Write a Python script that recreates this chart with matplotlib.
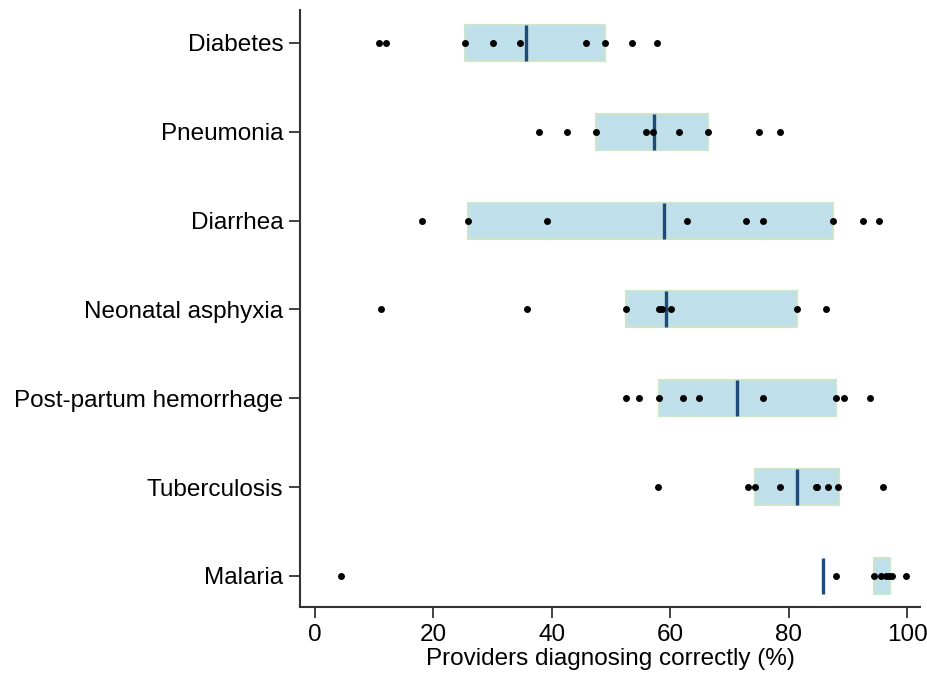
import matplotlib
matplotlib.use("Agg")
import matplotlib.pyplot as plt

plt.rcParams['font.family'] = ['Liberation Sans', 'DejaVu Sans']

# conditions, top to bottom
conditions = ["Diabetes", "Pneumonia", "Diarrhea", "Neonatal asphyxia",
              "Post-partum hemorrhage", "Tuberculosis", "Malaria"]

# shaded range (left, right) and median line, per condition
box_lo = [25.3, 47.4, 25.8, 52.5, 58.0, 74.3, 94.3]
box_hi = [49.0, 66.3, 87.4, 81.3, 88.0, 88.4, 97.1]
medians = [35.7, 57.2, 59.0, 59.2, 71.2, 81.4, 85.8]

# individual study values
points = [
    [10.8, 12.0, 25.3, 30.1, 34.6, 45.7, 49.0, 53.6, 57.8],
    [37.8, 42.5, 47.4, 55.9, 57.1, 61.5, 66.3, 74.9, 78.5],
    [18.0, 25.8, 39.2, 62.8, 72.8, 75.6, 87.4, 92.5, 95.2],
    [11.2, 35.8, 52.5, 58.0, 58.6, 60.1, 81.3, 86.3],
    [52.5, 54.7, 58.0, 62.2, 64.8, 75.7, 88.0, 89.3, 93.6],
    [57.9, 73.1, 74.2, 78.5, 84.5, 84.8, 86.6, 88.3, 95.8],
    [4.4, 87.9, 94.3, 95.6, 96.3, 96.8, 97.4, 99.8],
]

fig = plt.figure(figsize=(9.28, 6.74), dpi=100)
ax = fig.add_axes([0.3233, 0.0994, 0.668, 0.8856])

n = len(conditions)
ypos = [n - 1 - i for i in range(n)]

for i, y in enumerate(ypos):
    ax.barh(y, box_hi[i] - box_lo[i], left=box_lo[i], height=0.405,
            color="#bfe0eb", edgecolor="#c9e6cb", linewidth=1.5, zorder=1)
    ax.plot([medians[i], medians[i]], [y - 0.2025, y + 0.2025],
            color="#1d4a77", linewidth=2.4, solid_capstyle="butt", zorder=2)
    ax.scatter(points[i], [y] * len(points[i]), s=25, color="black",
               zorder=3, linewidths=0)

ax.set_xlim(-2.5, 102.1)
ax.set_ylim(-0.35, n - 1 + 0.37)
ax.set_yticks(ypos)
ax.set_yticklabels(conditions)
ax.set_xticks([0, 20, 40, 60, 80, 100])
ax.set_xlabel("Providers diagnosing correctly (%)", fontsize=17.5, labelpad=2)

for side in ["top", "right"]:
    ax.spines[side].set_visible(False)
for side in ["left", "bottom"]:
    ax.spines[side].set_color("#333333")
    ax.spines[side].set_linewidth(1.5)
ax.tick_params(axis="both", labelsize=17.5, length=8, width=1.3,
               color="#333333", pad=4)

fig.savefig("out.png", dpi=100)
